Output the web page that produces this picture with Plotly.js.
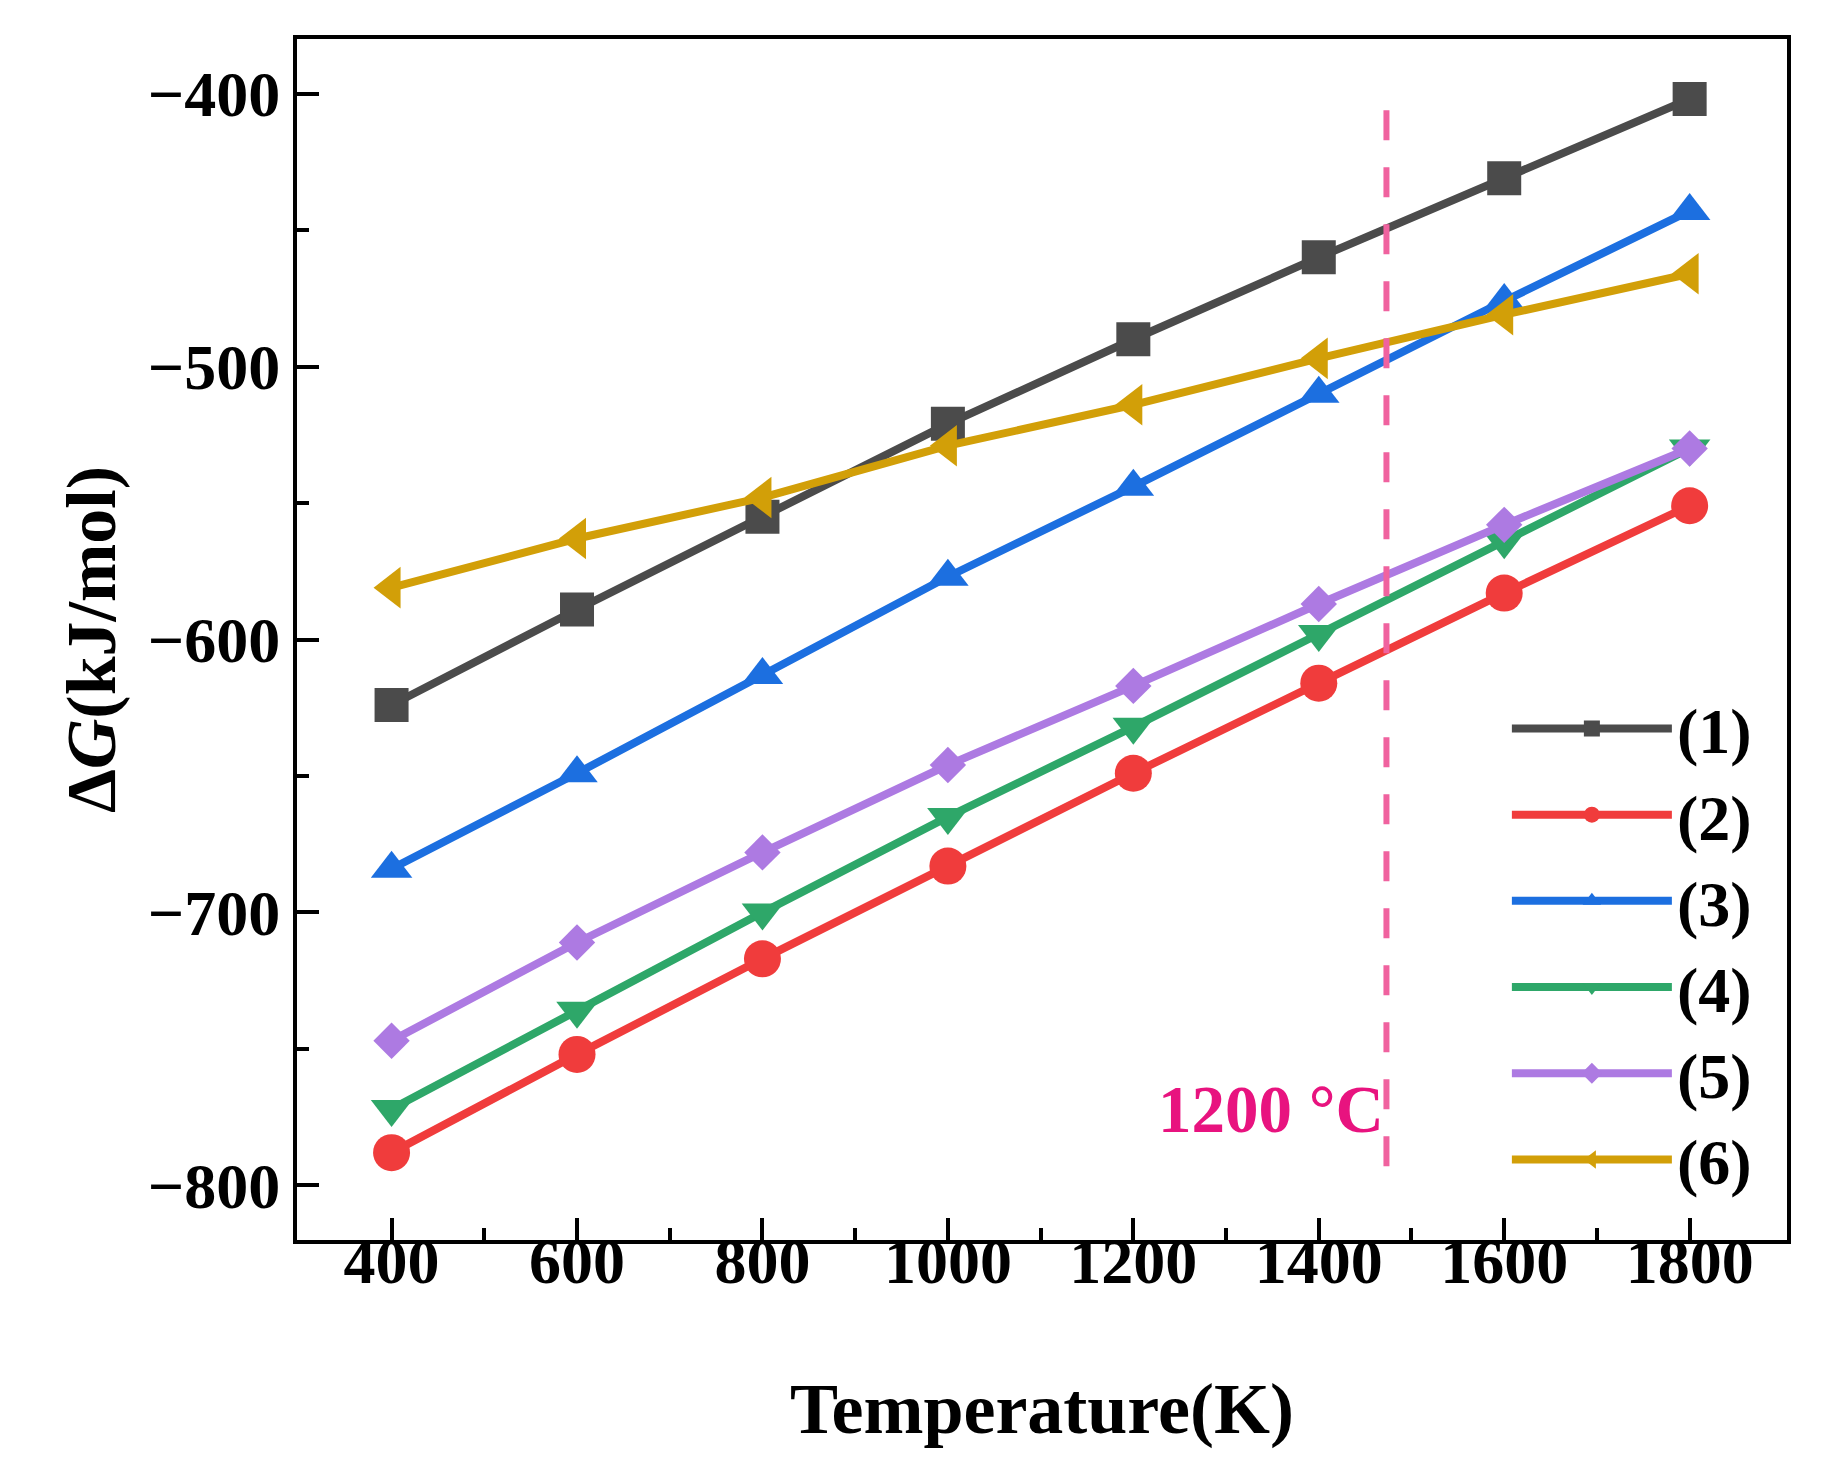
<!DOCTYPE html>
<html>
<head>
<meta charset="utf-8">
<script src="https://cdn.plot.ly/plotly-3.0.1.min.js"></script>
<style>
  body { margin: 0; background: #fff; }
  #myDiv { width: 1824px; height: 1483px; }
</style>
</head>
<body>
<div id="myDiv"></div>
<script>
 // temperatura (K)
 let temps = [400, 600, 800, 1000, 1200, 1400, 1600, 1800];
 let minorTemps = [500, 700, 900, 1100, 1300, 1500, 1700];

 // dG (kJ/mol) for reactions (1)..(6)
 let dG1 = [-624, -589, -555, -521, -490, -460, -431, -402];
 let dG2 = [-788, -752, -717, -683, -649, -616, -583, -551];
 let dG3 = [-684, -649, -613, -577, -544, -510, -476, -443];
 let dG4 = [-772, -736, -700, -665, -632, -598, -564, -530];
 let dG5 = [-747, -711, -678, -646, -617, -587, -558, -530];
 let dG6 = [-581, -563, -548, -529, -514, -497, -481, -466];

 let names = ['(1)', '(2)', '(3)', '(4)', '(5)', '(6)'];
 let colors = ['#4b4b4b', '#f03c3c', '#1c6fe0', '#2ea769', '#ad7ae2', '#d29f08'];
 let symbols = ['square', 'circle', 'triangle-up', 'triangle-down', 'diamond', 'triangle-left'];
 let sizes = [34, 37, 36, 36, 28, 36];

 // 1200 °C line
 let refTemp = 1473;
 let refLabel = '1200 °C';
 let refTop = -402, refBottom = -793;

 let fontFam = '"Liberation Serif", "Times New Roman", serif';

 function createPlot(){
    let series = [dG1, dG2, dG3, dG4, dG5, dG6];
    let traces = [];
    for (let i = 0; i < series.length; i++) {
        traces[i] = {
            x : temps,
            y : series[i],
            name : names[i],
            mode : 'lines+markers',
            line : {color : colors[i], width : 8},
            marker : {symbol : symbols[i], size : sizes[i], color : colors[i]}
        };
    }

    var axisBase = {
        showline : true,
        linecolor : '#000',
        linewidth : 4,
        mirror : true,
        showgrid : false,
        zeroline : false,
        ticks : 'inside',
        ticklen : 22,
        tickwidth : 4,
        tickcolor : '#000',
        tickfont : {family : fontFam, size : 64, color : '#000', weight : 'bold'}
    };

    var layout = {
        width : 1824,
        height : 1483,
        margin : {l : 297, r : 37, t : 39, b : 243},
        paper_bgcolor : '#fff',
        plot_bgcolor : '#fff',
        showlegend : true,
        legend : {
            x : 0.812, y : 0.466, xanchor : 'left', yanchor : 'top',
            bgcolor : 'rgba(0,0,0,0)',
            itemwidth : 160,
            font : {family : fontFam, size : 64, color : '#000', weight : 'bold'}
        },
        xaxis : Object.assign({}, axisBase, {
            range : [298, 1905],
            tickmode : 'array',
            tickvals : temps,
            ticklabelstandoff : -38,
            minor : {tickmode : 'array', tickvals : minorTemps, ticks : 'inside', ticklen : 12, tickwidth : 4, tickcolor : '#000'},
            title : {text : '<b>Temperature(K)</b>', standoff : 88,
                     font : {family : fontFam, size : 72, color : '#000'}}
        }),
        yaxis : Object.assign({}, axisBase, {
            range : [-820, -380],
            dtick : 100,
            tick0 : -800,
            minor : {dtick : 50, ticks : 'inside', ticklen : 12, tickwidth : 4, tickcolor : '#000'},
            title : {text : '<b>Δ<i>G</i>(kJ/mol)</b>', standoff : 10,
                     font : {family : fontFam, size : 70, color : '#000'}}
        }),
        shapes : [{
            type : 'line', xref : 'x', yref : 'y',
            x0 : refTemp, x1 : refTemp, y0 : refBottom, y1 : refTop,
            line : {color : '#f0629f', width : 6, dash : '30px,27px'}
        }],
        annotations : [{
            x : refTemp, y : -772, xref : 'x', yref : 'y',
            xanchor : 'right', yanchor : 'middle', xshift : 0,
            showarrow : false,
            text : '<b>' + refLabel + '</b>',
            font : {family : fontFam, size : 67, color : '#e8137f'}
        }]
    };

    Plotly.newPlot('myDiv', traces, layout, {displayModeBar : false});
 }

 createPlot();
</script>
</body>
</html>
